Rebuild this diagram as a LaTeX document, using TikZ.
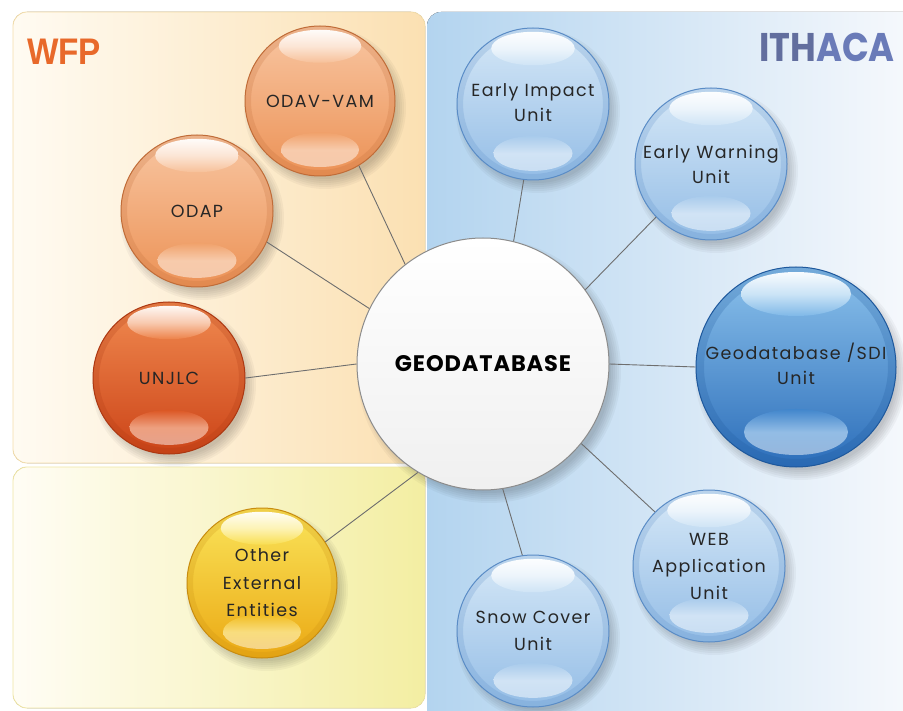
\documentclass[tikz,border=0pt]{standalone}
\usepackage{fontspec}
\setmainfont{Poppins}
\newfontfamily\headfont{Liberation Sans}
\newfontfamily\ballfont[LetterSpace=8]{Poppins}
\newfontfamily\hubfont[LetterSpace=4]{Poppins}
\usepackage{graphicx}
\usetikzlibrary{calc}

% panel colours
\definecolor{wfpL}{HTML}{FFFBF2}
\definecolor{wfpR}{HTML}{FBE0B2}
\definecolor{wfpB}{HTML}{F4DEAA}
\definecolor{extL}{HTML}{FFFDF5}
\definecolor{extR}{HTML}{F3EEA2}
\definecolor{extB}{HTML}{F0E6A4}
\definecolor{ithL}{HTML}{B3D4EF}
\definecolor{ithR}{HTML}{F5F8FC}
\definecolor{wfpText}{HTML}{E8692A}
\definecolor{ithDark}{HTML}{626E9E}
\definecolor{ithBlue}{HTML}{6A7BB8}
\definecolor{linkGray}{HTML}{6E6E6E}
% sphere palettes: light orange, dark orange, yellow, light blue, dark blue
\definecolor{loTop}{HTML}{F8C6A2}\definecolor{loMid}{HTML}{F2A874}\definecolor{loBot}{HTML}{EC9256}\definecolor{loEdge}{HTML}{C06C38}
\definecolor{doTop}{HTML}{F08A50}\definecolor{doMid}{HTML}{E2602A}\definecolor{doBot}{HTML}{CC4418}\definecolor{doEdge}{HTML}{AC3812}
\definecolor{yeTop}{HTML}{FAE45A}\definecolor{yeMid}{HTML}{F4C628}\definecolor{yeBot}{HTML}{EBA914}\definecolor{yeEdge}{HTML}{C88C10}
\definecolor{lbTop}{HTML}{D6E8F7}\definecolor{lbMid}{HTML}{B2D1EE}\definecolor{lbBot}{HTML}{94BDE6}\definecolor{lbEdge}{HTML}{5A8CC6}
\definecolor{dbTop}{HTML}{8CC2EC}\definecolor{dbMid}{HTML}{4A90D4}\definecolor{dbBot}{HTML}{2C6EBA}\definecolor{dbEdge}{HTML}{1E589C}

\tikzset{
  ballnode/.style={circle, inner sep=0pt, line width=1pt, align=center,
    text=black!85, font=\ballfont\fontsize{17.5}{25}\selectfont},
  link/.style={draw=linkGray, line width=0.9pt},
  panelbox/.style={rounded corners=14pt},
}

% glossy sphere: name, x, y, radius, palette, label
\newcommand\ball[6]{%
  \foreach \k in {0,...,5}{\fill[black,opacity=0.035] (#2+5,#3+7) circle ({#4+6-2*\k});}
  \node[ballnode, minimum size={2*#4pt},
    top color=#5Top, middle color=#5Mid, bottom color=#5Bot, draw=#5Edge,
    path picture={
      \draw[#5Edge, opacity=0.22, line width={0.08*#4pt}]
        (path picture bounding box.center) circle [radius={0.96*#4pt}];
      \shade[top color=white!94!#5Top, bottom color=#5Top!80!#5Mid, middle color=white!55!#5Top]
        ([yshift={-0.27*#4pt}]path picture bounding box.north)
        ellipse [x radius={0.55*#4pt}, y radius={0.22*#4pt}];
      \shade[top color=#5Mid!70!#5Bot, bottom color=white!50!#5Bot, middle color=#5Mid!60!white]
        ([yshift={0.35*#4pt}]path picture bounding box.south)
        ellipse [x radius={0.52*#4pt}, y radius={0.23*#4pt}];
    }] (#1) at (#2,#3) {#6};
}

\begin{document}
\begin{tikzpicture}[x=1pt, y=-1pt]
\useasboundingbox[fill=white] (0,0) rectangle (903,711);

% background panels
\fill[panelbox, left color=wfpL, right color=wfpR] (13,12) rectangle (425,463);
\draw[panelbox, wfpB, line width=0.8pt] (13,12) rectangle (425,463);
\fill[panelbox, left color=extL, right color=extR] (13,467) rectangle (425,708);
\draw[panelbox, extB, line width=0.8pt] (13,467) rectangle (425,708);
\fill[left color=ithL, right color=ithR]
  (427,711) [rounded corners=14pt] -- (427,12) [sharp corners] -- (903,12) -- (903,711) -- cycle;

% group titles
\node[anchor=base west, inner sep=0pt, text=wfpText,
  font=\headfont\bfseries\fontsize{37}{37}\selectfont] (wfp) at (27,65) {\scalebox{0.9}[1]{WFP}};
\node[anchor=base east, inner sep=0pt,
  font=\bfseries\fontsize{40}{40}\selectfont] (ithaca) at (895,62)
  {\scalebox{0.88}[1]{\textcolor{ithDark}{ITH}\textcolor{ithBlue}{ACA}}};

% central hub
\foreach \k in {0,...,5}{\fill[black,opacity=0.035] (489,371) circle ({132-2*\k});}
\node[circle, inner sep=0pt, minimum size=252pt, draw=black!45, line width=1pt,
  top color=white, bottom color=black!6,
  font=\hubfont\bfseries\fontsize{22.5}{22.5}\selectfont] (geo) at (483,364) {GEODATABASE};

% WFP units
\ball{odav}{320}{101}{75}{lo}{ODAV-VAM}
\ball{odap}{197}{211}{76}{lo}{ODAP}
\ball{unjlc}{169}{378}{76}{do}{UNJLC}
% external partners
\ball{other}{262}{583}{75}{ye}{Other\\[2.5pt]External\\[2.5pt]Entities}
% ITHACA units
\ball{impact}{533}{104}{76}{lb}{\raisebox{1.5pt}{\begin{tabular}{@{}c@{}}Early Impact\\Unit\end{tabular}}}
\ball{warning}{711}{164}{76}{lb}{Early Warning\\Unit}
\ball{sdi}{796}{367}{100}{db}{\raisebox{7pt}{\begin{tabular}{@{}c@{}}Geodatabase /SDI\\Unit\end{tabular}}}
\ball{web}{709}{566}{76}{lb}{WEB\\[2pt]Application\\[2pt]Unit}
\ball{snow}{533}{631}{76}{lb}{Snow Cover\\[2pt]Unit}

% links to the hub
\draw[link] (geo.128) -- (odav.-59);
\draw[link] (geo.154.5) -- (odap.-24);
\draw[link] (geo.180) -- (unjlc.0);
\draw[link] (geo.239) -- (other.33);
\draw[link] (geo.76) -- (impact.-97);
\draw[link] (geo.36) -- (warning.224);
\draw[link] (geo.0) -- (sdi.180);
\draw[link] (geo.-39) -- (web.135);
\draw[link] (geo.-81) -- (snow.98);
\end{tikzpicture}
\end{document}
